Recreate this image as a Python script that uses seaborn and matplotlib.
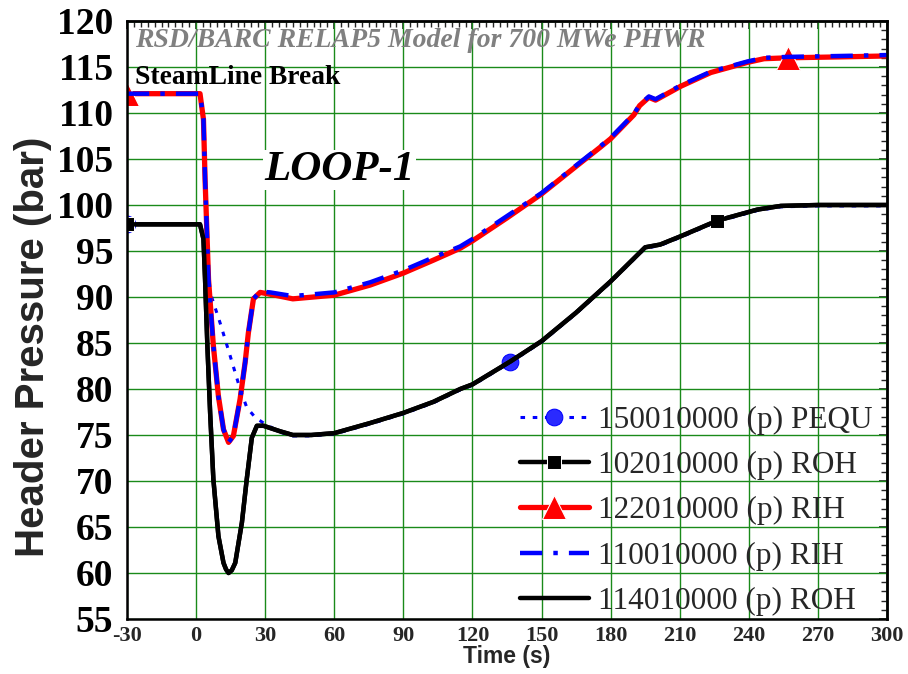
import matplotlib
matplotlib.use("Agg")
import matplotlib.pyplot as plt
import seaborn as sns
import pandas as pd
from matplotlib.ticker import MultipleLocator

sns.set_theme(style="white")
plt.rcParams["font.family"] = ["Liberation Serif", "DejaVu Serif"]
plt.rcParams["axes.unicode_minus"] = False

# ---------------- data ----------------
labels = ["150010000 (p) PEQU", "102010000 (p) ROH", "122010000 (p) RIH",
          "110010000 (p) RIH", "114010000 (p) ROH"]

t_pequ = [-30, 0, 1.7, 3.2, 3.9, 6.1, 10.4, 14.8, 19.1, 22, 25.7, 29.3, 36.5, 42, 50,
          60, 75.6, 90, 103, 114.7, 120, 136.5, 150, 165, 180, 195, 201.5, 210.4,
          226.3, 243.7, 253.9, 270, 300]
p_pequ = [97.9, 97.9, 97.9, 96.5, 94.2, 90.5, 87.2, 83.6, 80.0, 78.0, 76.9, 76.3, 75.3,
          74.9, 74.9, 75.1, 76.2, 77.3, 78.5, 79.9, 80.4, 82.9, 85.1, 88.2, 91.6, 95.3,
          95.6, 96.5, 98.2, 99.4, 99.8, 99.9, 99.9]

t_roh = [-30, 0, 1.7, 3.2, 3.9, 4.9, 6.1, 7.5, 9.7, 11.9, 13.0, 14.1, 15.5, 17, 19.9, 22,
         24.2, 26.4, 29.3, 36.5, 42, 50, 60, 75.6, 90, 103, 114.7, 120, 136.5, 150, 165,
         180, 195, 201.5, 210.4, 226.3, 243.7, 253.9, 270, 300]
p_roh102 = [97.9, 97.9, 97.9, 96.3, 91.9, 84.7, 77.4, 70.2, 64.0, 61.1, 60.4, 60.0, 60.3,
            61.1, 65.5, 70.2, 74.7, 76.0, 76.0, 75.4, 75.0, 75.0, 75.2, 76.3, 77.4, 78.6,
            80.0, 80.5, 83.0, 85.2, 88.3, 91.7, 95.4, 95.7, 96.6, 98.3, 99.5, 99.9,
            100.0, 100.0]
p_roh114 = [97.9, 97.9, 97.9, 96.3, 91.9, 84.7, 77.4, 70.2, 64.0, 61.1, 60.4, 60.0, 60.3,
            61.1, 65.5, 70.2, 74.7, 76.0, 76.0, 75.4, 75.0, 75.0, 75.2, 76.3, 77.4, 78.6,
            80.0, 80.5, 83.0, 85.2, 88.3, 91.7, 95.4, 95.7, 96.6, 98.3, 99.5, 99.9,
            100.0, 100.0]

t_rih = [-30, 0, 1.7, 3.2, 3.9, 5.4, 7.5, 9.7, 11.9, 14.1, 16.2, 19.1, 21.3, 22.7, 24.9,
         27.8, 32.2, 42, 60, 75.6, 90, 103, 114.7, 120, 135, 150, 165, 175.6, 180, 190.1,
         192.6, 196.6, 199.5, 210.4, 223.5, 239.4, 246.6, 256.9, 280, 300]
p_rih122 = [112.1, 112.1, 112.1, 109.3, 102.8, 91.9, 84.7, 79.2, 75.6, 74.2, 74.9, 78.9,
            82.9, 86.1, 89.8, 90.5, 90.3, 89.8, 90.2, 91.3, 92.6, 94.0, 95.3, 96.1, 98.6,
            101.2, 104.2, 106.3, 107.2, 109.8, 110.8, 111.7, 111.4, 112.9, 114.4, 115.5,
            115.9, 116.0, 116.1, 116.2]
p_rih110 = [112.1, 112.1, 112.1, 109.3, 102.8, 91.9, 84.7, 79.2, 75.6, 74.2, 74.9, 78.9,
            82.9, 86.1, 89.8, 90.6, 90.5, 90.1, 90.5, 91.6, 92.9, 94.3, 95.5, 96.3, 98.8,
            101.3, 104.3, 106.4, 107.3, 109.9, 110.9, 111.8, 111.5, 113.0, 114.5, 115.6,
            116.0, 116.1, 116.2, 116.3]

x_ticks = list(range(-30, 301, 30))
y_ticks = list(range(55, 121, 5))

# ---------------- figure ----------------
fig = plt.figure(figsize=(9.08, 6.74), dpi=100)
ax = fig.add_axes([127 / 908, 1 - 619 / 674, 760 / 908, 598 / 674])

green = "#1a8a1a"
ax.set_axisbelow(True)
ax.grid(True, which="major", color=green, lw=1.0)

series = [
    (t_pequ, p_pequ, labels[0], dict(color="blue", lw=2.2, linestyle=(0, (1.5, 2.5)),
                                      marker="o", ms=12, mec="blue", mfc="#2a2aff",
                                      markevery=[0, 21])),
    (t_roh, p_roh102, labels[1], dict(color="black", lw=3.2, linestyle="-",
                                       marker="s", ms=10, markevery=[0, 35])),
    (t_rih, p_rih122, labels[2], dict(color="red", lw=3.8, linestyle="-",
                                       marker="^", ms=17, markevery=[0, 37])),
    (t_rih, p_rih110, labels[3], dict(color="blue", lw=3.2,
                                       linestyle=(0, (5, 2.5, 1, 2.5)))),
    (t_roh, p_roh114, labels[4], dict(color="black", lw=3.2, linestyle="-")),
]

for t, p, lab, kw in series:
    df = pd.DataFrame({"t": t, "p": p})
    sns.lineplot(data=df, x="t", y="p", ax=ax, sort=False, estimator=None,
                 label=lab, **kw)

ax.set_xlim(-30, 300)
ax.set_ylim(55, 120)
ax.set_xticks(x_ticks)
ax.set_yticks(y_ticks)
ax.xaxis.set_minor_locator(MultipleLocator(3))
ax.yaxis.set_minor_locator(MultipleLocator(1))

ax.tick_params(axis="y", which="major", direction="out", length=9, width=1.5,
               labelsize=27, pad=1, colors="black")
ax.tick_params(axis="y", which="minor", direction="out", length=5, width=1.2)
ax.tick_params(axis="x", which="major", direction="out", length=5, width=1.5,
               labelsize=16, pad=0)
ax.tick_params(axis="x", which="minor", direction="out", length=4, width=1.2)
for lbl in ax.get_yticklabels() + ax.get_xticklabels():
    lbl.set_fontweight("bold")
    lbl.set_family(["Liberation Serif", "DejaVu Serif"])

# top / right ticks pointing inward
secx = ax.secondary_xaxis("top")
secx.set_xticks(x_ticks)
secx.xaxis.set_minor_locator(MultipleLocator(3))
secx.tick_params(which="major", direction="in", length=6, width=1.2, labeltop=False)
secx.tick_params(which="minor", direction="in", length=4, width=1.0)
secy = ax.secondary_yaxis("right")
secy.set_yticks(y_ticks)
secy.yaxis.set_minor_locator(MultipleLocator(1))
secy.tick_params(which="major", direction="in", length=6, width=1.2, labelright=False)
secy.tick_params(which="minor", direction="in", length=4, width=1.0)

for s in ax.spines.values():
    s.set_color("black")
    s.set_linewidth(1.8)
for s in list(secx.spines.values()) + list(secy.spines.values()):
    s.set_linewidth(1.8)

ax.set_xlabel("Time (s)", family=["Liberation Sans", "DejaVu Sans"], fontsize=16.5,
              fontweight="bold", labelpad=-1)
ax.set_ylabel("Header Pressure (bar)", family=["Liberation Sans", "DejaVu Sans"],
              fontsize=29, fontweight="bold")
ax.yaxis.set_label_coords(-0.099, 0.455)

ax.text(0.0105, 0.9666, "RSD/BARC RELAP5 Model for 700 MWe PHWR", transform=ax.transAxes,
        color="#808080", fontsize=20, fontweight="bold", fontstyle="italic",
        ha="left", va="center")
ax.text(0.0105, 0.906, "SteamLine Break", transform=ax.transAxes, color="black",
        fontsize=19.8, fontweight="bold", ha="left", va="center")
ax.text(0.28, 0.751, "LOOP-1", transform=ax.transAxes, color="black", fontsize=31,
        fontweight="bold", fontstyle="italic", ha="center", va="center",
        bbox=dict(facecolor="white", edgecolor="none", pad=1))

leg = ax.legend(loc="lower right", bbox_to_anchor=(0.985, 0.0), frameon=False,
                fontsize=22.5, handlelength=2.2, handletextpad=0.3,
                labelspacing=0.52, borderpad=0.1, borderaxespad=0.0)

fig.savefig("out.png", dpi=100)
